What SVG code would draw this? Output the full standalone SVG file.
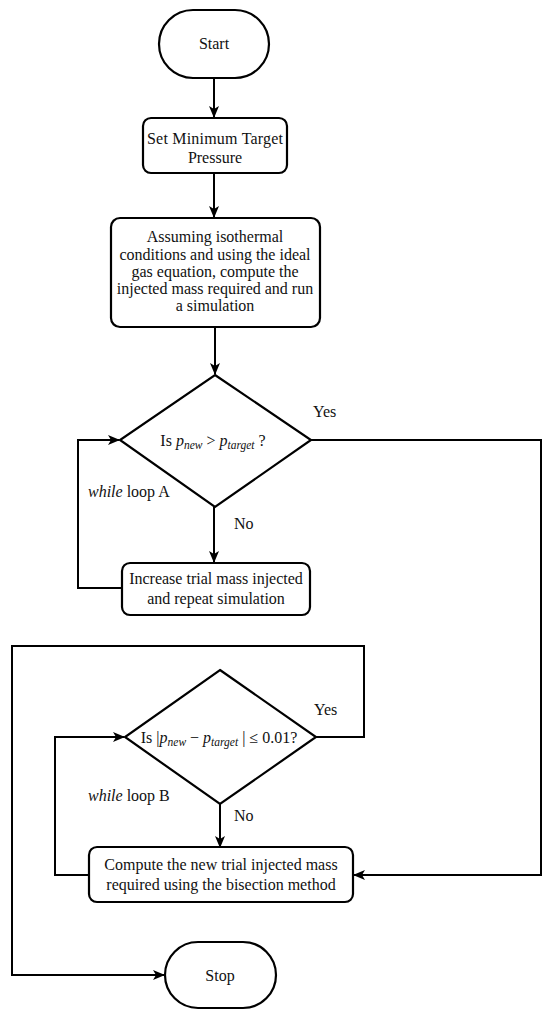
<svg xmlns="http://www.w3.org/2000/svg" width="550" height="1019" viewBox="0 0 550 1019">
<style>
.s{fill:#fff;stroke:#000;stroke-width:2.2}
.c{fill:none;stroke:#000;stroke-width:2}
text{font-family:'Liberation Serif', 'Times New Roman', serif;font-size:16px;fill:#111}
.m{text-anchor:middle}
.sub{font-size:11.5px;font-style:italic}
.i{font-style:italic}
</style>
<defs>
<marker id="ah" viewBox="0 0 12 10" refX="11" refY="5" markerWidth="12" markerHeight="10" markerUnits="userSpaceOnUse" orient="auto">
<path d="M0,0 L12,5 L0,10 L3,5 Z" fill="#000"/>
</marker>
</defs>
<rect width="550" height="1019" fill="#fff"/>
<g id="connectors">
<path class="c" d="M214,78 V117" marker-end="url(#ah)"/>
<path class="c" d="M214,173 V217" marker-end="url(#ah)"/>
<path class="c" d="M215,327 V374" marker-end="url(#ah)"/>
<path class="c" d="M214,507 V562" marker-end="url(#ah)"/>
<path class="c" d="M122,588 H78 V440 H119" marker-end="url(#ah)"/>
<path class="c" d="M311,440 H541 V875 H354" marker-end="url(#ah)"/>
<path class="c" d="M316,737 H364 V646 H12 V975 H164" marker-end="url(#ah)"/>
<path class="c" d="M220,804 V847" marker-end="url(#ah)"/>
<path class="c" d="M89,875 H55 V737 H124" marker-end="url(#ah)"/>
</g>
<g id="start">
<rect class="s" x="159" y="10" width="110" height="68" rx="34"/>
<text class="m" x="214" y="49">Start</text>
</g>
<g id="set-target">
<rect class="s" x="143" y="118" width="144" height="55" rx="8"/>
<text class="m" x="215" y="144" textLength="136">Set Minimum Target</text>
<text class="m" x="215" y="163">Pressure</text>
</g>
<g id="compute-mass">
<rect class="s" x="111" y="218" width="209" height="109" rx="9"/>
<text class="m" x="215" y="242">Assuming isothermal</text>
<text class="m" x="215" y="260">conditions and using the ideal</text>
<text class="m" x="215" y="277">gas equation, compute the</text>
<text class="m" x="215" y="294">injected mass required and run</text>
<text class="m" x="215" y="311">a simulation</text>
</g>
<g id="decision-a">
<path class="s" d="M215,375 L311,440 L215,507 L120,440 Z"/>
<text class="m" x="213" y="446">Is <tspan class="i">p</tspan><tspan class="sub" dy="3">new</tspan><tspan dy="-3"> &gt; </tspan><tspan class="i">p</tspan><tspan class="sub" dy="3">target</tspan><tspan dy="-3"> ?</tspan></text>
<text x="313" y="417">Yes</text>
<text x="234" y="529">No</text>
<text x="88" y="497"><tspan class="i">while</tspan> loop A</text>
</g>
<g id="increase-mass">
<rect class="s" x="122" y="563" width="188" height="52" rx="8"/>
<text class="m" x="216" y="584">Increase trial mass injected</text>
<text class="m" x="216" y="604">and repeat simulation</text>
</g>
<g id="decision-b">
<path class="s" d="M220,670 L316,737 L220,804 L125,737 Z"/>
<text class="m" x="219" y="743">Is |<tspan class="i">p</tspan><tspan class="sub" dy="3">new</tspan><tspan dy="-3"> − </tspan><tspan class="i">p</tspan><tspan class="sub" dy="3">target</tspan><tspan dy="-3"> | ≤ 0.01?</tspan></text>
<text x="314" y="715">Yes</text>
<text x="234" y="821">No</text>
<text x="88" y="801"><tspan class="i">while</tspan> loop B</text>
</g>
<g id="bisection">
<rect class="s" x="89" y="847" width="264" height="55" rx="8"/>
<text class="m" x="221" y="870">Compute the new trial injected mass</text>
<text class="m" x="221" y="890">required using the bisection method</text>
</g>
<g id="stop">
<rect class="s" x="165" y="942" width="111" height="66" rx="33"/>
<text class="m" x="220" y="981">Stop</text>
</g>
</svg>
